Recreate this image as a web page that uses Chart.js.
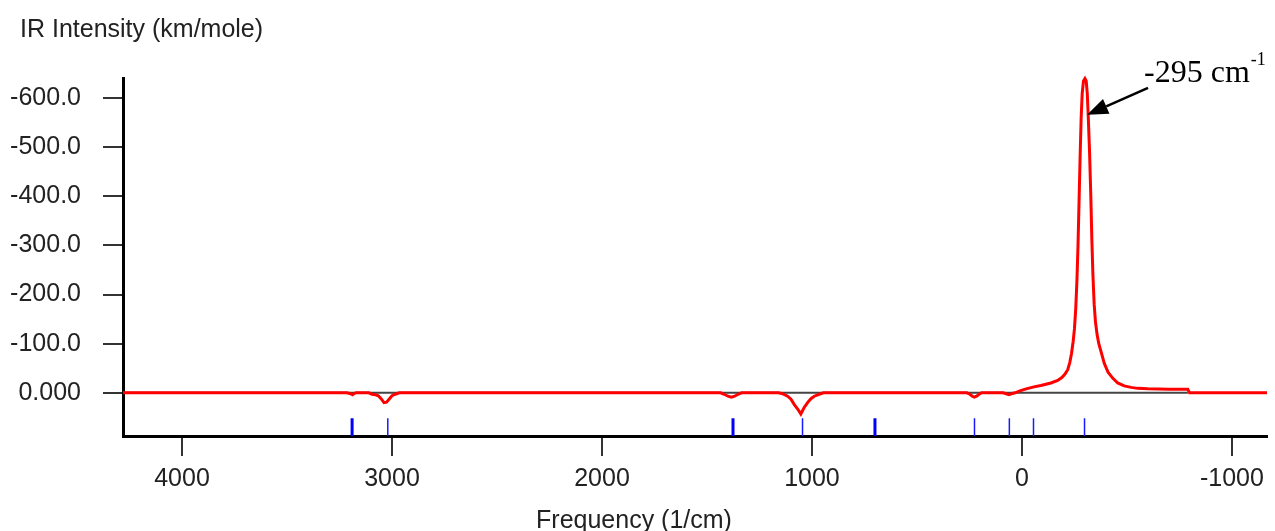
<!DOCTYPE html>
<html>
<head>
<meta charset="utf-8">
<script src="https://cdn.jsdelivr.net/npm/chart.js@4.4.1/dist/chart.umd.min.js"></script>
<style>
  html, body { margin: 0; padding: 0; background: #fff; }
  #wrap { width: 1275px; height: 531px; position: relative; }
</style>
</head>
<body>
<div id="wrap"><canvas id="irChart"></canvas></div>
<script>
// broadened IR spectrum (cm^-1 / km/mole)
const specFreq = [4281, 3215, 3197, 3188, 3179, 3170, 3110, 3095, 3078, 3065, 3052, 3038, 3026, 3012, 3000, 2985, 2965,
  1435, 1418, 1400, 1384, 1368, 1352, 1335,
  1160, 1140, 1116, 1100, 1084, 1068, 1053, 1037, 1021, 1005, 989, 966, 945,
  262, 248, 236, 227, 216, 204, 192,
  90, 75, 62, 50, 32, 10, -20, -57, -90, -138, -170, -190, -205, -218, -228, -236, -244, -250, -256, -262, -267,
  -272, -277, -282, -287, -293, -300, -306, -311, -316, -322, -328, -333, -338, -344, -350, -358, -366, -376,
  -392, -410, -432, -456, -487, -520, -551, -600, -700, -790, -798, -1167];
const specInt = [0, 0, 2, 4, 1, 0, 0, 3, 4, 6, 12, 20, 19, 12, 6, 3, 0,
  0, 3, 7, 9, 7, 3, 0,
  0, 2, 7, 13, 24, 33, 43, 30, 20, 12, 7, 3, 0,
  0, 3, 7, 9, 7, 3, 0,
  0, 2, 4, 2, 0, -4, -8, -12, -15, -20, -25, -31, -38, -47, -62, -80, -105, -130, -170, -230, -300,
  -390, -480, -560, -610, -635, -640, -635, -610, -560, -490, -400, -310, -240, -180, -145, -118, -100, -85,
  -60, -42, -30, -20, -14, -11, -9, -8, -7, -7, 0, 0];

// normal mode sticks
const stickThick = [3190, 1376, 700];
const stickThin = [3020, 1045, 226, 60, -55, -298];
const stickTop = 52;
const stickBottom = 88;

const yTicks = [-600, -500, -400, -300, -200, -100, 0];
const xTicks = [4000, 3000, 2000, 1000, 0, -1000];
const peakText = "-295 cm";

function sticks(list) {
  const out = [];
  list.forEach(f => {
    out.push({ x: f, y: stickTop }, { x: f, y: stickBottom }, { x: f, y: null });
  });
  return out;
}

const FONT = "'Liberation Sans', Arial, sans-serif";

const textPlugin = {
  id: "texts",
  afterDraw(chart) {
    const ctx = chart.ctx;
    const xs = chart.scales.x, ys = chart.scales.y;
    ctx.save();
    ctx.fillStyle = "#222";
    ctx.font = "25px " + FONT;
    ctx.textBaseline = "alphabetic";
    ctx.textAlign = "left";
    ctx.fillText("IR Intensity (km/mole)", 20, 37);
    ctx.textAlign = "center";
    ctx.fillText("Frequency (1/cm)", 634, 528);

    // arrow to the imaginary-mode peak
    const tx = xs.getPixelForValue(-310), ty = ys.getPixelForValue(-566);
    const sx = tx + 61, sy = ty - 27;
    const ang = Math.atan2(ty - sy, tx - sx);
    const hl = 21, hw = 8;
    const bx = tx - hl * Math.cos(ang), by = ty - hl * Math.sin(ang);
    ctx.strokeStyle = "#000";
    ctx.fillStyle = "#000";
    ctx.lineWidth = 2.5;
    ctx.beginPath();
    ctx.moveTo(sx, sy);
    ctx.lineTo(bx, by);
    ctx.stroke();
    ctx.beginPath();
    ctx.moveTo(tx, ty);
    ctx.lineTo(bx + hw * Math.sin(ang), by - hw * Math.cos(ang));
    ctx.lineTo(bx - hw * Math.sin(ang), by + hw * Math.cos(ang));
    ctx.closePath();
    ctx.fill();

    ctx.textAlign = "left";
    ctx.font = "32px 'Liberation Serif', 'Times New Roman', serif";
    const lx = sx - 4, ly = sy - 6;
    ctx.fillText(peakText, lx, ly);
    const w = ctx.measureText(peakText).width;
    ctx.font = "18px 'Liberation Serif', 'Times New Roman', serif";
    ctx.fillText("-1", lx + w + 1, ly - 17);
    ctx.restore();
  }
};

new Chart(document.getElementById("irChart"), {
  type: "line",
  data: {
    datasets: [
      {
        data: specFreq.map((f, i) => ({ x: f, y: specInt[i] })),
        borderColor: "#ff0000",
        borderWidth: 3,
        pointRadius: 0,
        tension: 0,
        clip: false,
        order: 0
      },
      {
        data: sticks(stickThick),
        borderColor: "#0000ff",
        borderWidth: 3,
        pointRadius: 0,
        spanGaps: false,
        order: 1
      },
      {
        data: sticks(stickThin),
        borderColor: "#1a1aff",
        borderWidth: 1.5,
        pointRadius: 0,
        spanGaps: false,
        order: 1
      },
      {
        data: [{ x: 4281, y: 0 }, { x: -790, y: 0 }],
        borderColor: "#444",
        borderWidth: 2,
        pointRadius: 0,
        order: 3
      }
    ]
  },
  options: {
    responsive: true,
    maintainAspectRatio: false,
    animation: false,
    layout: { padding: { top: 78, right: 8, left: 0, bottom: 0 } },
    plugins: {
      legend: { display: false },
      tooltip: { enabled: false },
      title: { display: false }
    },
    scales: {
      x: {
        type: "linear",
        reverse: true,
        min: -1167,
        max: 4281,
        afterBuildTicks: s => { s.ticks = xTicks.map(v => ({ value: v })); },
        afterFit: s => { s.height = 95; },
        border: { display: true, color: "#000", width: 3 },
        grid: { drawOnChartArea: false, drawTicks: true, tickLength: 20, color: "#333", lineWidth: 2 },
        ticks: {
          color: "#222",
          font: { family: FONT, size: 25 },
          padding: 8,
          maxRotation: 0,
          callback: v => String(v)
        }
      },
      y: {
        type: "linear",
        reverse: true,
        min: -641,
        max: 88,
        afterBuildTicks: s => { s.ticks = yTicks.map(v => ({ value: v })); },
        afterFit: s => { s.width = 123; },
        border: { display: true, color: "#000", width: 3 },
        grid: { drawOnChartArea: false, drawTicks: true, tickLength: 20, color: "#333", lineWidth: 2 },
        ticks: {
          color: "#222",
          font: { family: FONT, size: 25 },
          padding: 22,
          callback: v => (v === 0 ? "0.000" : v.toFixed(1))
        }
      }
    }
  },
  plugins: [textPlugin]
});
</script>
</body>
</html>
